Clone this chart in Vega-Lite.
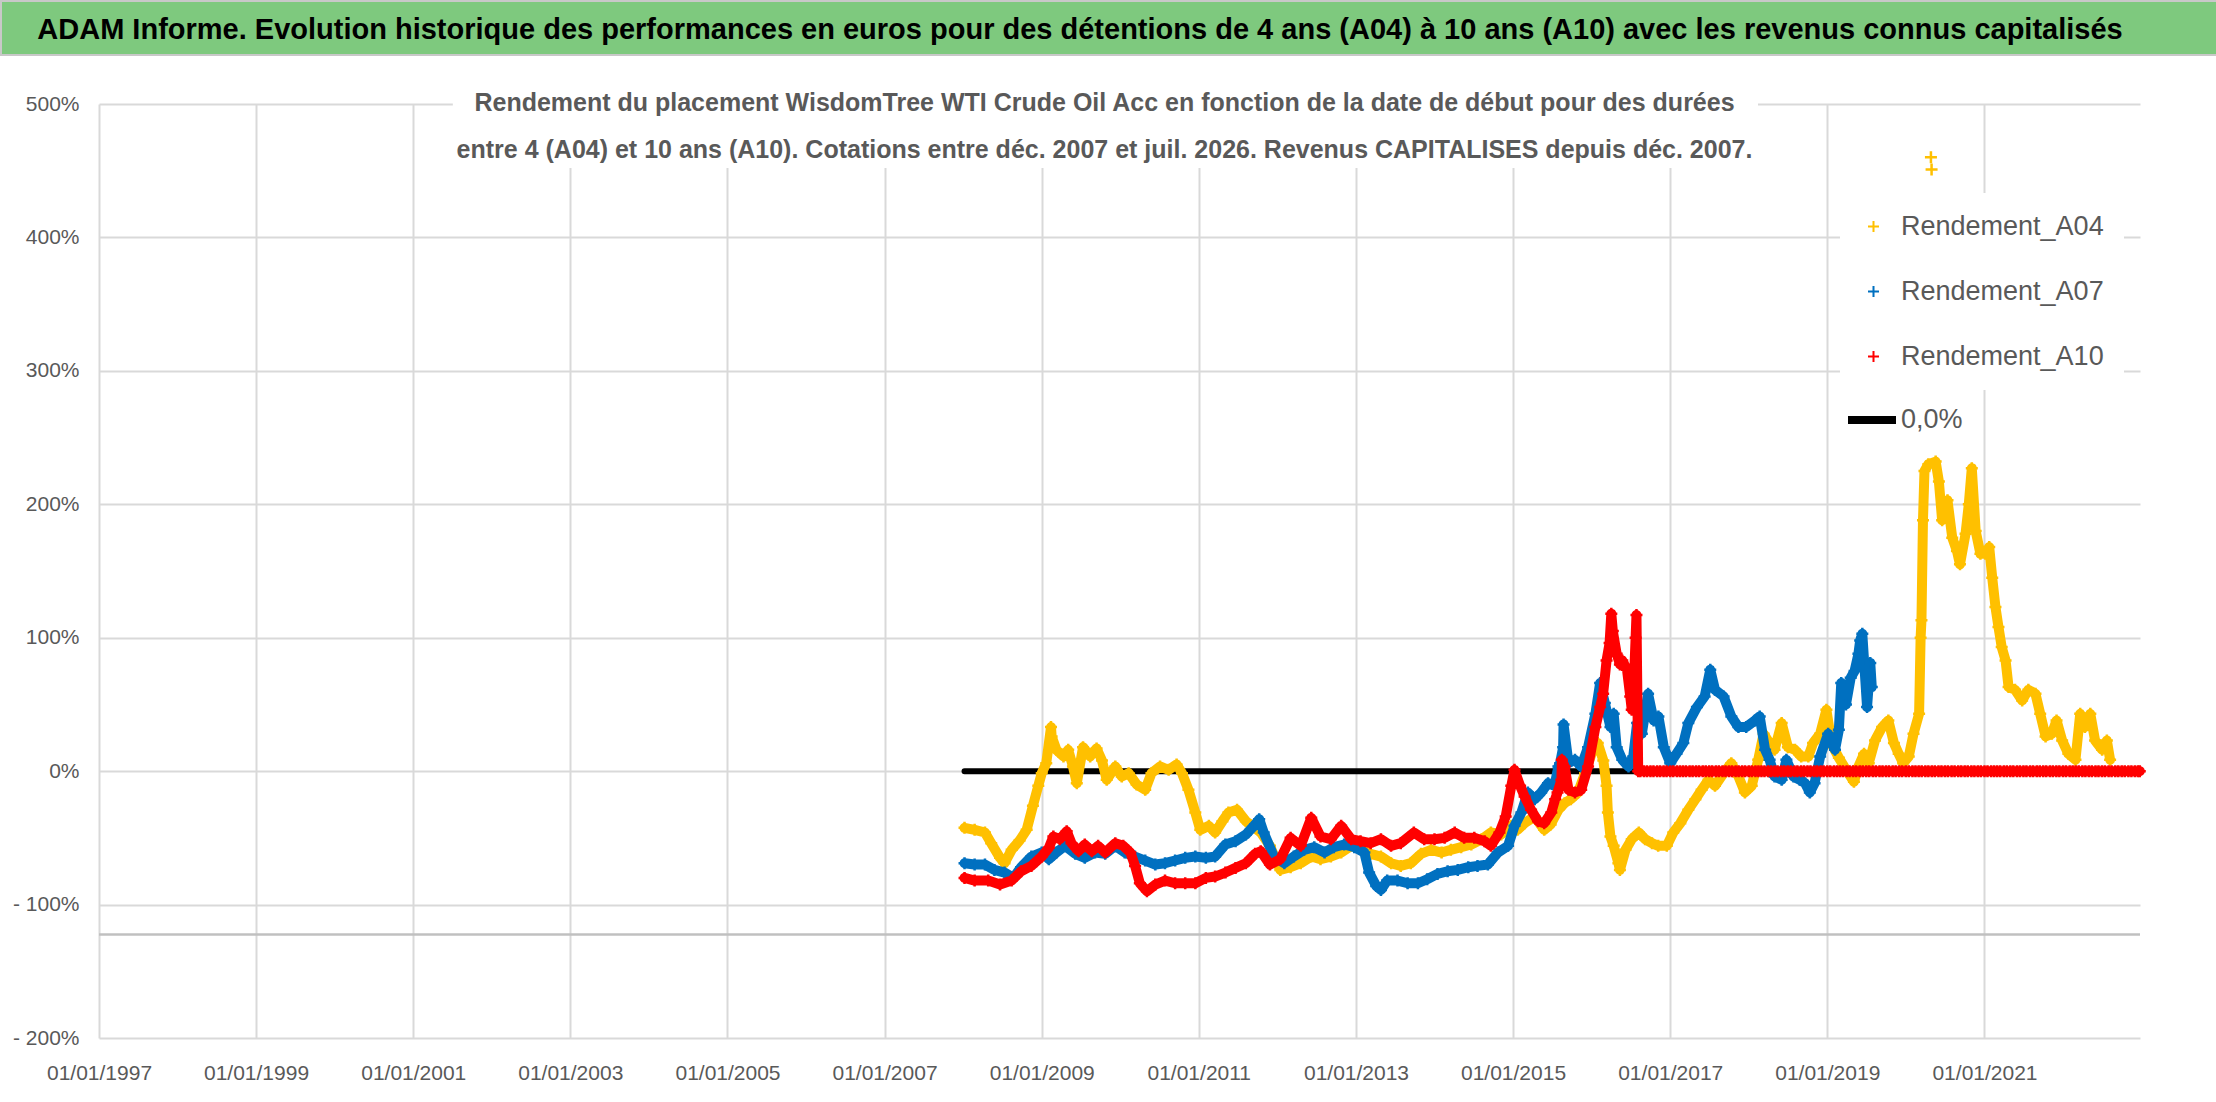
{
"$schema": "https://vega.github.io/schema/vega-lite/v6.json",
"padding": 0,
"background": "white",
"spacing": 35,
"config": {"view": {"stroke": null}, "font": "Liberation Sans"},
"vconcat": [
{
"width": 2216, "height": 54,
"view": {"fill": "#7ec97e", "stroke": "#c8c8c8", "strokeWidth": 2},
"data": {"values": [{"t": "ADAM Informe. Evolution historique des performances en euros pour des détentions de 4 ans (A04) à 10 ans (A10) avec les revenus connus capitalisés"}]},
"mark": {"type": "text", "font": "Liberation Sans", "fontSize": 29, "fontWeight": "bold", "color": "black", "align": "center", "baseline": "middle", "dx": -29, "dy": 2},
"encoding": {"text": {"field": "t"}}
},
{
"spacing": 0,
"bounds": "flush",
"hconcat": [
{
"width": 98, "height": 934,
"data": {"values": []},
"mark": "point"
},
{
"width": 2041, "height": 934,
"title": {"text": ["Rendement du placement WisdomTree WTI Crude Oil Acc en fonction de la date de début pour des durées", "entre 4 (A04) et 10 ans (A10). Cotations entre déc. 2007 et juil. 2026. Revenus CAPITALISES depuis déc. 2007."], "font": "Liberation Sans", "fontSize": 25, "fontWeight": "bold", "color": "#595959", "lineHeight": 47, "anchor": "middle", "frame": "group", "baseline": "top", "offset": -70, "dx": -15},
"data": {"values": [
{"d":"2008-01-08","s":"0,0%","v":0},{"d":"2016-08-05","s":"0,0%","v":0},
{"d":"2008-01-08","s":"Rendement_A04","v":-42.5},{"d":"2008-02-24","s":"Rendement_A04","v":-44},{"d":"2008-04-12","s":"Rendement_A04","v":-46},{"d":"2008-05-11","s":"Rendement_A04","v":-54},{"d":"2008-06-21","s":"Rendement_A04","v":-65},{"d":"2008-07-12","s":"Rendement_A04","v":-69},{"d":"2008-08-14","s":"Rendement_A04","v":-59},{"d":"2008-09-20","s":"Rendement_A04","v":-52},{"d":"2008-10-23","s":"Rendement_A04","v":-44},{"d":"2008-11-21","s":"Rendement_A04","v":-26},{"d":"2008-12-16","s":"Rendement_A04","v":-11},
{"d":"2009-01-01","s":"Rendement_A04","v":-1.5},{"d":"2009-01-22","s":"Rendement_A04","v":6},{"d":"2009-02-13","s":"Rendement_A04","v":33},{"d":"2009-02-16","s":"Rendement_A04","v":26},{"d":"2009-03-10","s":"Rendement_A04","v":16},{"d":"2009-04-12","s":"Rendement_A04","v":11},{"d":"2009-05-04","s":"Rendement_A04","v":16},{"d":"2009-05-26","s":"Rendement_A04","v":3.5},{"d":"2009-06-13","s":"Rendement_A04","v":-9},{"d":"2009-07-12","s":"Rendement_A04","v":18},{"d":"2009-08-14","s":"Rendement_A04","v":11},{"d":"2009-09-13","s":"Rendement_A04","v":17},{"d":"2009-10-08","s":"Rendement_A04","v":8},{"d":"2009-10-30","s":"Rendement_A04","v":-6.5},{"d":"2009-12-09","s":"Rendement_A04","v":3.5},
{"d":"2010-01-08","s":"Rendement_A04","v":-4},{"d":"2010-02-09","s":"Rendement_A04","v":-1.5},{"d":"2010-03-18","s":"Rendement_A04","v":-10},{"d":"2010-04-27","s":"Rendement_A04","v":-14},{"d":"2010-05-26","s":"Rendement_A04","v":-1.5},{"d":"2010-07-05","s":"Rendement_A04","v":3.5},{"d":"2010-08-14","s":"Rendement_A04","v":1},{"d":"2010-09-20","s":"Rendement_A04","v":5},{"d":"2010-10-15","s":"Rendement_A04","v":-1.5},{"d":"2010-11-14","s":"Rendement_A04","v":-14},{"d":"2010-12-16","s":"Rendement_A04","v":-31},
{"d":"2011-01-08","s":"Rendement_A04","v":-44},{"d":"2011-02-17","s":"Rendement_A04","v":-41},{"d":"2011-03-18","s":"Rendement_A04","v":-46},{"d":"2011-04-21","s":"Rendement_A04","v":-37.5},{"d":"2011-05-19","s":"Rendement_A04","v":-31},{"d":"2011-06-28","s":"Rendement_A04","v":-29},{"d":"2011-08-08","s":"Rendement_A04","v":-37.5},{"d":"2011-09-06","s":"Rendement_A04","v":-41},{"d":"2011-10-16","s":"Rendement_A04","v":-46},{"d":"2011-11-28","s":"Rendement_A04","v":-56},
{"d":"2012-01-15","s":"Rendement_A04","v":-74},{"d":"2012-03-03","s":"Rendement_A04","v":-72},{"d":"2012-04-19","s":"Rendement_A04","v":-69},{"d":"2012-06-07","s":"Rendement_A04","v":-64},{"d":"2012-07-20","s":"Rendement_A04","v":-66},{"d":"2012-09-06","s":"Rendement_A04","v":-64},{"d":"2012-10-24","s":"Rendement_A04","v":-61},{"d":"2012-12-10","s":"Rendement_A04","v":-56},
{"d":"2013-01-22","s":"Rendement_A04","v":-57},{"d":"2013-03-10","s":"Rendement_A04","v":-62},{"d":"2013-04-27","s":"Rendement_A04","v":-64},{"d":"2013-06-13","s":"Rendement_A04","v":-69},{"d":"2013-07-28","s":"Rendement_A04","v":-71},{"d":"2013-09-13","s":"Rendement_A04","v":-69},{"d":"2013-10-30","s":"Rendement_A04","v":-62},{"d":"2013-12-16","s":"Rendement_A04","v":-59},
{"d":"2014-02-03","s":"Rendement_A04","v":-61},{"d":"2014-03-18","s":"Rendement_A04","v":-59},{"d":"2014-05-05","s":"Rendement_A04","v":-57},{"d":"2014-06-21","s":"Rendement_A04","v":-55},{"d":"2014-08-08","s":"Rendement_A04","v":-51},{"d":"2014-09-20","s":"Rendement_A04","v":-46},{"d":"2014-11-07","s":"Rendement_A04","v":-47.5},{"d":"2014-12-24","s":"Rendement_A04","v":-41},
{"d":"2015-01-22","s":"Rendement_A04","v":-44},{"d":"2015-02-24","s":"Rendement_A04","v":-39},{"d":"2015-04-12","s":"Rendement_A04","v":-34},{"d":"2015-05-26","s":"Rendement_A04","v":-44},{"d":"2015-06-25","s":"Rendement_A04","v":-40},{"d":"2015-07-31","s":"Rendement_A04","v":-29},{"d":"2015-08-29","s":"Rendement_A04","v":-24},{"d":"2015-09-27","s":"Rendement_A04","v":-21},{"d":"2015-10-30","s":"Rendement_A04","v":-16},{"d":"2015-12-02","s":"Rendement_A04","v":-1.5},
{"d":"2016-01-01","s":"Rendement_A04","v":13},{"d":"2016-01-30","s":"Rendement_A04","v":21},{"d":"2016-02-25","s":"Rendement_A04","v":8},{"d":"2016-03-11","s":"Rendement_A04","v":-11},{"d":"2016-03-17","s":"Rendement_A04","v":-31},{"d":"2016-03-29","s":"Rendement_A04","v":-49},{"d":"2016-04-13","s":"Rendement_A04","v":-56},{"d":"2016-05-05","s":"Rendement_A04","v":-69},{"d":"2016-05-12","s":"Rendement_A04","v":-74},{"d":"2016-06-07","s":"Rendement_A04","v":-59},{"d":"2016-07-06","s":"Rendement_A04","v":-51},{"d":"2016-08-08","s":"Rendement_A04","v":-46},{"d":"2016-09-06","s":"Rendement_A04","v":-51},{"d":"2016-10-08","s":"Rendement_A04","v":-54},{"d":"2016-11-06","s":"Rendement_A04","v":-56},{"d":"2016-12-16","s":"Rendement_A04","v":-56},
{"d":"2017-01-15","s":"Rendement_A04","v":-46},{"d":"2017-02-17","s":"Rendement_A04","v":-39},{"d":"2017-03-26","s":"Rendement_A04","v":-29},{"d":"2017-04-28","s":"Rendement_A04","v":-21},{"d":"2017-05-27","s":"Rendement_A04","v":-14},{"d":"2017-06-28","s":"Rendement_A04","v":-6.5},{"d":"2017-07-28","s":"Rendement_A04","v":-11},{"d":"2017-09-06","s":"Rendement_A04","v":-1.5},{"d":"2017-10-12","s":"Rendement_A04","v":6},{"d":"2017-11-14","s":"Rendement_A04","v":-4},{"d":"2017-12-14","s":"Rendement_A04","v":-16},
{"d":"2018-01-15","s":"Rendement_A04","v":-11},{"d":"2018-02-14","s":"Rendement_A04","v":8.5},{"d":"2018-03-11","s":"Rendement_A04","v":28},{"d":"2018-04-08","s":"Rendement_A04","v":21},{"d":"2018-05-01","s":"Rendement_A04","v":16},{"d":"2018-06-03","s":"Rendement_A04","v":36},{"d":"2018-07-02","s":"Rendement_A04","v":18},{"d":"2018-08-04","s":"Rendement_A04","v":16},{"d":"2018-09-02","s":"Rendement_A04","v":11},{"d":"2018-10-05","s":"Rendement_A04","v":11},{"d":"2018-10-27","s":"Rendement_A04","v":21},{"d":"2018-11-29","s":"Rendement_A04","v":28},{"d":"2018-12-28","s":"Rendement_A04","v":46},
{"d":"2019-01-22","s":"Rendement_A04","v":20},{"d":"2019-02-24","s":"Rendement_A04","v":10},{"d":"2019-03-26","s":"Rendement_A04","v":2},{"d":"2019-05-05","s":"Rendement_A04","v":-8},{"d":"2019-05-26","s":"Rendement_A04","v":3.5},{"d":"2019-06-21","s":"Rendement_A04","v":13},{"d":"2019-07-13","s":"Rendement_A04","v":6},{"d":"2019-08-11","s":"Rendement_A04","v":23},{"d":"2019-09-13","s":"Rendement_A04","v":33},{"d":"2019-10-12","s":"Rendement_A04","v":38},{"d":"2019-11-07","s":"Rendement_A04","v":21},{"d":"2019-11-29","s":"Rendement_A04","v":13},{"d":"2019-12-20","s":"Rendement_A04","v":6},
{"d":"2020-01-15","s":"Rendement_A04","v":11},{"d":"2020-02-06","s":"Rendement_A04","v":28},{"d":"2020-03-03","s":"Rendement_A04","v":43},{"d":"2020-03-10","s":"Rendement_A04","v":100},{"d":"2020-03-14","s":"Rendement_A04","v":113},{"d":"2020-03-21","s":"Rendement_A04","v":188},{"d":"2020-03-28","s":"Rendement_A04","v":225},{"d":"2020-04-15","s":"Rendement_A04","v":230},{"d":"2020-04-27","s":"Rendement_A04","v":460},{"d":"2020-04-30","s":"Rendement_A04","v":451},{"d":"2020-05-19","s":"Rendement_A04","v":232},{"d":"2020-06-03","s":"Rendement_A04","v":217},{"d":"2020-06-18","s":"Rendement_A04","v":188},{"d":"2020-07-13","s":"Rendement_A04","v":203},{"d":"2020-08-04","s":"Rendement_A04","v":175},{"d":"2020-08-26","s":"Rendement_A04","v":165},{"d":"2020-09-09","s":"Rendement_A04","v":155},{"d":"2020-10-05","s":"Rendement_A04","v":178},{"d":"2020-10-20","s":"Rendement_A04","v":200},{"d":"2020-11-03","s":"Rendement_A04","v":227},{"d":"2020-11-21","s":"Rendement_A04","v":180},{"d":"2020-12-13","s":"Rendement_A04","v":163},
{"d":"2021-01-05","s":"Rendement_A04","v":163},{"d":"2021-01-23","s":"Rendement_A04","v":168},{"d":"2021-02-06","s":"Rendement_A04","v":145},{"d":"2021-02-21","s":"Rendement_A04","v":123},{"d":"2021-03-07","s":"Rendement_A04","v":108},{"d":"2021-03-22","s":"Rendement_A04","v":93},{"d":"2021-04-09","s":"Rendement_A04","v":83},{"d":"2021-04-23","s":"Rendement_A04","v":63},{"d":"2021-05-23","s":"Rendement_A04","v":61},{"d":"2021-06-25","s":"Rendement_A04","v":53},{"d":"2021-07-24","s":"Rendement_A04","v":61},{"d":"2021-08-26","s":"Rendement_A04","v":58},{"d":"2021-09-17","s":"Rendement_A04","v":43},{"d":"2021-10-12","s":"Rendement_A04","v":26},{"d":"2021-11-10","s":"Rendement_A04","v":28},{"d":"2021-12-02","s":"Rendement_A04","v":38},{"d":"2021-12-28","s":"Rendement_A04","v":23},
{"d":"2022-01-26","s":"Rendement_A04","v":13},{"d":"2022-02-28","s":"Rendement_A04","v":8.5},{"d":"2022-03-22","s":"Rendement_A04","v":43},{"d":"2022-04-13","s":"Rendement_A04","v":33},{"d":"2022-05-08","s":"Rendement_A04","v":43},{"d":"2022-05-30","s":"Rendement_A04","v":23},{"d":"2022-07-02","s":"Rendement_A04","v":16},{"d":"2022-07-24","s":"Rendement_A04","v":23},{"d":"2022-08-08","s":"Rendement_A04","v":8.5},
{"d":"2008-01-08","s":"Rendement_A07","v":-69},{"d":"2008-02-24","s":"Rendement_A07","v":-70},{"d":"2008-04-12","s":"Rendement_A07","v":-70},{"d":"2008-05-26","s":"Rendement_A07","v":-74},{"d":"2008-07-12","s":"Rendement_A07","v":-76},{"d":"2008-08-22","s":"Rendement_A07","v":-80},{"d":"2008-09-27","s":"Rendement_A07","v":-72},{"d":"2008-11-14","s":"Rendement_A07","v":-64},
{"d":"2009-01-01","s":"Rendement_A07","v":-61},{"d":"2009-02-03","s":"Rendement_A07","v":-66},{"d":"2009-03-10","s":"Rendement_A07","v":-61},{"d":"2009-04-19","s":"Rendement_A07","v":-56},{"d":"2009-06-06","s":"Rendement_A07","v":-62},{"d":"2009-07-20","s":"Rendement_A07","v":-65},{"d":"2009-09-06","s":"Rendement_A07","v":-61},{"d":"2009-10-23","s":"Rendement_A07","v":-62},{"d":"2009-12-09","s":"Rendement_A07","v":-56},
{"d":"2010-01-22","s":"Rendement_A07","v":-61},{"d":"2010-03-10","s":"Rendement_A07","v":-64},{"d":"2010-04-27","s":"Rendement_A07","v":-67},{"d":"2010-06-13","s":"Rendement_A07","v":-70},{"d":"2010-07-28","s":"Rendement_A07","v":-69},{"d":"2010-09-13","s":"Rendement_A07","v":-67},{"d":"2010-10-30","s":"Rendement_A07","v":-65},{"d":"2010-12-16","s":"Rendement_A07","v":-64},
{"d":"2011-02-03","s":"Rendement_A07","v":-65},{"d":"2011-03-18","s":"Rendement_A07","v":-64},{"d":"2011-05-05","s":"Rendement_A07","v":-55},{"d":"2011-06-21","s":"Rendement_A07","v":-52.5},{"d":"2011-08-08","s":"Rendement_A07","v":-47.5},{"d":"2011-09-20","s":"Rendement_A07","v":-40},{"d":"2011-10-09","s":"Rendement_A07","v":-36},{"d":"2011-10-30","s":"Rendement_A07","v":-46},{"d":"2011-12-16","s":"Rendement_A07","v":-64},
{"d":"2012-02-03","s":"Rendement_A07","v":-69},{"d":"2012-03-18","s":"Rendement_A07","v":-64},{"d":"2012-05-05","s":"Rendement_A07","v":-59},{"d":"2012-06-21","s":"Rendement_A07","v":-57},{"d":"2012-08-08","s":"Rendement_A07","v":-61},{"d":"2012-09-20","s":"Rendement_A07","v":-57},{"d":"2012-11-07","s":"Rendement_A07","v":-55},{"d":"2012-12-24","s":"Rendement_A07","v":-57},
{"d":"2013-02-09","s":"Rendement_A07","v":-61},{"d":"2013-03-03","s":"Rendement_A07","v":-76},{"d":"2013-04-05","s":"Rendement_A07","v":-86},{"d":"2013-04-27","s":"Rendement_A07","v":-89},{"d":"2013-05-26","s":"Rendement_A07","v":-82},{"d":"2013-07-13","s":"Rendement_A07","v":-82},{"d":"2013-08-29","s":"Rendement_A07","v":-84},{"d":"2013-10-16","s":"Rendement_A07","v":-84},{"d":"2013-11-28","s":"Rendement_A07","v":-81},
{"d":"2014-01-15","s":"Rendement_A07","v":-77},{"d":"2014-03-03","s":"Rendement_A07","v":-75},{"d":"2014-04-19","s":"Rendement_A07","v":-74},{"d":"2014-06-07","s":"Rendement_A07","v":-72},{"d":"2014-07-20","s":"Rendement_A07","v":-71},{"d":"2014-09-06","s":"Rendement_A07","v":-70},{"d":"2014-10-23","s":"Rendement_A07","v":-61},{"d":"2014-12-09","s":"Rendement_A07","v":-56},
{"d":"2015-01-08","s":"Rendement_A07","v":-41},{"d":"2015-02-09","s":"Rendement_A07","v":-31},{"d":"2015-03-11","s":"Rendement_A07","v":-16},{"d":"2015-04-12","s":"Rendement_A07","v":-21},{"d":"2015-05-12","s":"Rendement_A07","v":-16},{"d":"2015-06-13","s":"Rendement_A07","v":-9},{"d":"2015-07-13","s":"Rendement_A07","v":-11},{"d":"2015-07-31","s":"Rendement_A07","v":3.5},{"d":"2015-08-08","s":"Rendement_A07","v":6},{"d":"2015-08-22","s":"Rendement_A07","v":18},{"d":"2015-08-24","s":"Rendement_A07","v":35},{"d":"2015-09-16","s":"Rendement_A07","v":6},{"d":"2015-10-16","s":"Rendement_A07","v":8.5},{"d":"2015-11-14","s":"Rendement_A07","v":3.5},{"d":"2015-12-16","s":"Rendement_A07","v":18},
{"d":"2016-01-19","s":"Rendement_A07","v":43},{"d":"2016-02-10","s":"Rendement_A07","v":66},{"d":"2016-03-03","s":"Rendement_A07","v":51},{"d":"2016-03-29","s":"Rendement_A07","v":33},{"d":"2016-04-13","s":"Rendement_A07","v":43},{"d":"2016-04-27","s":"Rendement_A07","v":18},{"d":"2016-05-23","s":"Rendement_A07","v":8.5},{"d":"2016-06-21","s":"Rendement_A07","v":3.5},{"d":"2016-07-13","s":"Rendement_A07","v":11},{"d":"2016-07-31","s":"Rendement_A07","v":36},{"d":"2016-08-22","s":"Rendement_A07","v":28},{"d":"2016-09-20","s":"Rendement_A07","v":58},{"d":"2016-10-16","s":"Rendement_A07","v":38},{"d":"2016-11-07","s":"Rendement_A07","v":41},{"d":"2016-12-02","s":"Rendement_A07","v":18},
{"d":"2017-01-01","s":"Rendement_A07","v":6},{"d":"2017-01-30","s":"Rendement_A07","v":13},{"d":"2017-03-03","s":"Rendement_A07","v":21},{"d":"2017-03-26","s":"Rendement_A07","v":36},{"d":"2017-05-05","s":"Rendement_A07","v":48},{"d":"2017-06-10","s":"Rendement_A07","v":56},{"d":"2017-07-06","s":"Rendement_A07","v":76},{"d":"2017-07-28","s":"Rendement_A07","v":61},{"d":"2017-09-06","s":"Rendement_A07","v":56},{"d":"2017-10-12","s":"Rendement_A07","v":41},{"d":"2017-11-14","s":"Rendement_A07","v":33},{"d":"2017-12-20","s":"Rendement_A07","v":33},
{"d":"2018-01-30","s":"Rendement_A07","v":38},{"d":"2018-02-21","s":"Rendement_A07","v":41},{"d":"2018-03-18","s":"Rendement_A07","v":16},{"d":"2018-04-08","s":"Rendement_A07","v":8.5},{"d":"2018-05-01","s":"Rendement_A07","v":-4},{"d":"2018-06-03","s":"Rendement_A07","v":-6.5},{"d":"2018-06-25","s":"Rendement_A07","v":8.5},{"d":"2018-07-28","s":"Rendement_A07","v":-4},{"d":"2018-08-26","s":"Rendement_A07","v":-6.5},{"d":"2018-09-20","s":"Rendement_A07","v":-9},{"d":"2018-10-12","s":"Rendement_A07","v":-16},{"d":"2018-11-03","s":"Rendement_A07","v":-9},{"d":"2018-11-29","s":"Rendement_A07","v":11},
{"d":"2019-01-05","s":"Rendement_A07","v":28},{"d":"2019-02-06","s":"Rendement_A07","v":16},{"d":"2019-02-24","s":"Rendement_A07","v":31},{"d":"2019-03-07","s":"Rendement_A07","v":66},{"d":"2019-03-29","s":"Rendement_A07","v":50},{"d":"2019-04-20","s":"Rendement_A07","v":70},{"d":"2019-05-08","s":"Rendement_A07","v":75},{"d":"2019-05-26","s":"Rendement_A07","v":88},{"d":"2019-06-03","s":"Rendement_A07","v":98},{"d":"2019-06-13","s":"Rendement_A07","v":103},{"d":"2019-07-05","s":"Rendement_A07","v":48},{"d":"2019-07-20","s":"Rendement_A07","v":81},{"d":"2019-07-27","s":"Rendement_A07","v":63},
{"d":"2008-01-08","s":"Rendement_A10","v":-80},{"d":"2008-02-24","s":"Rendement_A10","v":-82},{"d":"2008-04-27","s":"Rendement_A10","v":-82},{"d":"2008-06-21","s":"Rendement_A10","v":-85},{"d":"2008-08-14","s":"Rendement_A10","v":-82},{"d":"2008-09-27","s":"Rendement_A10","v":-75},{"d":"2008-11-14","s":"Rendement_A10","v":-71},
{"d":"2009-01-01","s":"Rendement_A10","v":-64},{"d":"2009-02-03","s":"Rendement_A10","v":-57.5},{"d":"2009-02-24","s":"Rendement_A10","v":-49},{"d":"2009-03-26","s":"Rendement_A10","v":-51},{"d":"2009-04-27","s":"Rendement_A10","v":-45},{"d":"2009-05-19","s":"Rendement_A10","v":-54},{"d":"2009-06-21","s":"Rendement_A10","v":-60},{"d":"2009-07-20","s":"Rendement_A10","v":-55},{"d":"2009-08-22","s":"Rendement_A10","v":-60},{"d":"2009-09-20","s":"Rendement_A10","v":-56},{"d":"2009-10-23","s":"Rendement_A10","v":-61},{"d":"2009-12-09","s":"Rendement_A10","v":-54},
{"d":"2010-01-15","s":"Rendement_A10","v":-56},{"d":"2010-02-17","s":"Rendement_A10","v":-61},{"d":"2010-03-11","s":"Rendement_A10","v":-71},{"d":"2010-04-02","s":"Rendement_A10","v":-84},{"d":"2010-05-05","s":"Rendement_A10","v":-90},{"d":"2010-06-13","s":"Rendement_A10","v":-85},{"d":"2010-07-28","s":"Rendement_A10","v":-82},{"d":"2010-09-13","s":"Rendement_A10","v":-84},{"d":"2010-10-30","s":"Rendement_A10","v":-84},{"d":"2010-12-16","s":"Rendement_A10","v":-84},
{"d":"2011-02-03","s":"Rendement_A10","v":-80},{"d":"2011-03-18","s":"Rendement_A10","v":-79},{"d":"2011-05-05","s":"Rendement_A10","v":-76},{"d":"2011-06-21","s":"Rendement_A10","v":-72.5},{"d":"2011-08-08","s":"Rendement_A10","v":-69},{"d":"2011-09-20","s":"Rendement_A10","v":-62},{"d":"2011-10-16","s":"Rendement_A10","v":-60},{"d":"2011-11-28","s":"Rendement_A10","v":-70},
{"d":"2012-01-15","s":"Rendement_A10","v":-66},{"d":"2012-03-03","s":"Rendement_A10","v":-50},{"d":"2012-04-19","s":"Rendement_A10","v":-56},{"d":"2012-06-07","s":"Rendement_A10","v":-35},{"d":"2012-07-20","s":"Rendement_A10","v":-49},{"d":"2012-09-06","s":"Rendement_A10","v":-51},{"d":"2012-10-24","s":"Rendement_A10","v":-41},{"d":"2012-12-10","s":"Rendement_A10","v":-51},
{"d":"2013-01-22","s":"Rendement_A10","v":-52.5},{"d":"2013-03-10","s":"Rendement_A10","v":-54},{"d":"2013-04-27","s":"Rendement_A10","v":-51},{"d":"2013-06-13","s":"Rendement_A10","v":-56},{"d":"2013-07-28","s":"Rendement_A10","v":-54},{"d":"2013-09-27","s":"Rendement_A10","v":-46},{"d":"2013-11-14","s":"Rendement_A10","v":-51},
{"d":"2014-01-01","s":"Rendement_A10","v":-51},{"d":"2014-02-17","s":"Rendement_A10","v":-50},{"d":"2014-04-05","s":"Rendement_A10","v":-46},{"d":"2014-05-19","s":"Rendement_A10","v":-50},{"d":"2014-07-05","s":"Rendement_A10","v":-50},{"d":"2014-08-22","s":"Rendement_A10","v":-52.5},{"d":"2014-09-20","s":"Rendement_A10","v":-56},{"d":"2014-10-30","s":"Rendement_A10","v":-46},{"d":"2014-11-28","s":"Rendement_A10","v":-34},{"d":"2014-12-24","s":"Rendement_A10","v":-11},
{"d":"2015-01-08","s":"Rendement_A10","v":1},{"d":"2015-02-03","s":"Rendement_A10","v":-11},{"d":"2015-02-24","s":"Rendement_A10","v":-19},{"d":"2015-03-26","s":"Rendement_A10","v":-29},{"d":"2015-04-27","s":"Rendement_A10","v":-37.5},{"d":"2015-05-26","s":"Rendement_A10","v":-39},{"d":"2015-06-28","s":"Rendement_A10","v":-31},{"d":"2015-07-16","s":"Rendement_A10","v":-21},{"d":"2015-07-27","s":"Rendement_A10","v":-16},{"d":"2015-08-14","s":"Rendement_A10","v":-6.5},{"d":"2015-08-16","s":"Rendement_A10","v":8.5},{"d":"2015-08-29","s":"Rendement_A10","v":3.5},{"d":"2015-09-16","s":"Rendement_A10","v":-14},{"d":"2015-10-16","s":"Rendement_A10","v":-16},{"d":"2015-11-14","s":"Rendement_A10","v":-14},{"d":"2015-12-16","s":"Rendement_A10","v":3.5},
{"d":"2016-01-19","s":"Rendement_A10","v":33},{"d":"2016-02-10","s":"Rendement_A10","v":48},{"d":"2016-02-24","s":"Rendement_A10","v":58},{"d":"2016-03-11","s":"Rendement_A10","v":83},{"d":"2016-03-25","s":"Rendement_A10","v":96},{"d":"2016-04-02","s":"Rendement_A10","v":118},{"d":"2016-04-09","s":"Rendement_A10","v":105},{"d":"2016-04-27","s":"Rendement_A10","v":88},{"d":"2016-05-12","s":"Rendement_A10","v":80},{"d":"2016-05-23","s":"Rendement_A10","v":83},{"d":"2016-06-14","s":"Rendement_A10","v":76},{"d":"2016-06-29","s":"Rendement_A10","v":56},{"d":"2016-07-06","s":"Rendement_A10","v":46},{"d":"2016-07-17","s":"Rendement_A10","v":71},{"d":"2016-07-24","s":"Rendement_A10","v":100},{"d":"2016-07-28","s":"Rendement_A10","v":117},
{"d":"2016-08-05","s":"Rendement_A10","v":0},{"d":"2016-08-15","s":"Rendement_A10","v":0},{"d":"2016-09-01","s":"Rendement_A10","v":0},{"d":"2016-09-15","s":"Rendement_A10","v":0},{"d":"2016-10-01","s":"Rendement_A10","v":0},{"d":"2016-10-15","s":"Rendement_A10","v":0},{"d":"2016-11-01","s":"Rendement_A10","v":0},{"d":"2016-11-15","s":"Rendement_A10","v":0},{"d":"2016-12-01","s":"Rendement_A10","v":0},{"d":"2016-12-15","s":"Rendement_A10","v":0},
{"d":"2017-01-01","s":"Rendement_A10","v":0},{"d":"2017-01-15","s":"Rendement_A10","v":0},{"d":"2017-02-01","s":"Rendement_A10","v":0},{"d":"2017-02-15","s":"Rendement_A10","v":0},{"d":"2017-03-01","s":"Rendement_A10","v":0},{"d":"2017-03-15","s":"Rendement_A10","v":0},{"d":"2017-04-01","s":"Rendement_A10","v":0},{"d":"2017-04-15","s":"Rendement_A10","v":0},{"d":"2017-05-01","s":"Rendement_A10","v":0},{"d":"2017-05-15","s":"Rendement_A10","v":0},{"d":"2017-06-01","s":"Rendement_A10","v":0},{"d":"2017-06-15","s":"Rendement_A10","v":0},{"d":"2017-07-01","s":"Rendement_A10","v":0},{"d":"2017-07-15","s":"Rendement_A10","v":0},{"d":"2017-08-01","s":"Rendement_A10","v":0},{"d":"2017-08-15","s":"Rendement_A10","v":0},{"d":"2017-09-01","s":"Rendement_A10","v":0},{"d":"2017-09-15","s":"Rendement_A10","v":0},{"d":"2017-10-01","s":"Rendement_A10","v":0},{"d":"2017-10-15","s":"Rendement_A10","v":0},{"d":"2017-11-01","s":"Rendement_A10","v":0},{"d":"2017-11-15","s":"Rendement_A10","v":0},{"d":"2017-12-01","s":"Rendement_A10","v":0},{"d":"2017-12-15","s":"Rendement_A10","v":0},
{"d":"2018-01-01","s":"Rendement_A10","v":0},{"d":"2018-01-15","s":"Rendement_A10","v":0},{"d":"2018-02-01","s":"Rendement_A10","v":0},{"d":"2018-02-15","s":"Rendement_A10","v":0},{"d":"2018-03-01","s":"Rendement_A10","v":0},{"d":"2018-03-15","s":"Rendement_A10","v":0},{"d":"2018-04-01","s":"Rendement_A10","v":0},{"d":"2018-04-15","s":"Rendement_A10","v":0},{"d":"2018-05-01","s":"Rendement_A10","v":0},{"d":"2018-05-15","s":"Rendement_A10","v":0},{"d":"2018-06-01","s":"Rendement_A10","v":0},{"d":"2018-06-15","s":"Rendement_A10","v":0},{"d":"2018-07-01","s":"Rendement_A10","v":0},{"d":"2018-07-15","s":"Rendement_A10","v":0},{"d":"2018-08-01","s":"Rendement_A10","v":0},{"d":"2018-08-15","s":"Rendement_A10","v":0},{"d":"2018-09-01","s":"Rendement_A10","v":0},{"d":"2018-09-15","s":"Rendement_A10","v":0},{"d":"2018-10-01","s":"Rendement_A10","v":0},{"d":"2018-10-15","s":"Rendement_A10","v":0},{"d":"2018-11-01","s":"Rendement_A10","v":0},{"d":"2018-11-15","s":"Rendement_A10","v":0},{"d":"2018-12-01","s":"Rendement_A10","v":0},{"d":"2018-12-15","s":"Rendement_A10","v":0},
{"d":"2019-01-01","s":"Rendement_A10","v":0},{"d":"2019-01-15","s":"Rendement_A10","v":0},{"d":"2019-02-01","s":"Rendement_A10","v":0},{"d":"2019-02-15","s":"Rendement_A10","v":0},{"d":"2019-03-01","s":"Rendement_A10","v":0},{"d":"2019-03-15","s":"Rendement_A10","v":0},{"d":"2019-04-01","s":"Rendement_A10","v":0},{"d":"2019-04-15","s":"Rendement_A10","v":0},{"d":"2019-05-01","s":"Rendement_A10","v":0},{"d":"2019-05-15","s":"Rendement_A10","v":0},{"d":"2019-06-01","s":"Rendement_A10","v":0},{"d":"2019-06-15","s":"Rendement_A10","v":0},{"d":"2019-07-01","s":"Rendement_A10","v":0},{"d":"2019-07-15","s":"Rendement_A10","v":0},{"d":"2019-08-01","s":"Rendement_A10","v":0},{"d":"2019-08-15","s":"Rendement_A10","v":0},{"d":"2019-09-01","s":"Rendement_A10","v":0},{"d":"2019-09-15","s":"Rendement_A10","v":0},{"d":"2019-10-01","s":"Rendement_A10","v":0},{"d":"2019-10-15","s":"Rendement_A10","v":0},{"d":"2019-11-01","s":"Rendement_A10","v":0},{"d":"2019-11-15","s":"Rendement_A10","v":0},{"d":"2019-12-01","s":"Rendement_A10","v":0},{"d":"2019-12-15","s":"Rendement_A10","v":0},
{"d":"2020-01-01","s":"Rendement_A10","v":0},{"d":"2020-01-15","s":"Rendement_A10","v":0},{"d":"2020-02-01","s":"Rendement_A10","v":0},{"d":"2020-02-15","s":"Rendement_A10","v":0},{"d":"2020-03-01","s":"Rendement_A10","v":0},{"d":"2020-03-15","s":"Rendement_A10","v":0},{"d":"2020-04-01","s":"Rendement_A10","v":0},{"d":"2020-04-15","s":"Rendement_A10","v":0},{"d":"2020-05-01","s":"Rendement_A10","v":0},{"d":"2020-05-15","s":"Rendement_A10","v":0},{"d":"2020-06-01","s":"Rendement_A10","v":0},{"d":"2020-06-15","s":"Rendement_A10","v":0},{"d":"2020-07-01","s":"Rendement_A10","v":0},{"d":"2020-07-15","s":"Rendement_A10","v":0},{"d":"2020-08-01","s":"Rendement_A10","v":0},{"d":"2020-08-15","s":"Rendement_A10","v":0},{"d":"2020-09-01","s":"Rendement_A10","v":0},{"d":"2020-09-15","s":"Rendement_A10","v":0},{"d":"2020-10-01","s":"Rendement_A10","v":0},{"d":"2020-10-15","s":"Rendement_A10","v":0},{"d":"2020-11-01","s":"Rendement_A10","v":0},{"d":"2020-11-15","s":"Rendement_A10","v":0},{"d":"2020-12-01","s":"Rendement_A10","v":0},{"d":"2020-12-15","s":"Rendement_A10","v":0},
{"d":"2021-01-01","s":"Rendement_A10","v":0},{"d":"2021-01-15","s":"Rendement_A10","v":0},{"d":"2021-02-01","s":"Rendement_A10","v":0},{"d":"2021-02-15","s":"Rendement_A10","v":0},{"d":"2021-03-01","s":"Rendement_A10","v":0},{"d":"2021-03-15","s":"Rendement_A10","v":0},{"d":"2021-04-01","s":"Rendement_A10","v":0},{"d":"2021-04-15","s":"Rendement_A10","v":0},{"d":"2021-05-01","s":"Rendement_A10","v":0},{"d":"2021-05-15","s":"Rendement_A10","v":0},{"d":"2021-06-01","s":"Rendement_A10","v":0},{"d":"2021-06-15","s":"Rendement_A10","v":0},{"d":"2021-07-01","s":"Rendement_A10","v":0},{"d":"2021-07-15","s":"Rendement_A10","v":0},{"d":"2021-08-01","s":"Rendement_A10","v":0},{"d":"2021-08-15","s":"Rendement_A10","v":0},{"d":"2021-09-01","s":"Rendement_A10","v":0},{"d":"2021-09-15","s":"Rendement_A10","v":0},{"d":"2021-10-01","s":"Rendement_A10","v":0},{"d":"2021-10-15","s":"Rendement_A10","v":0},{"d":"2021-11-01","s":"Rendement_A10","v":0},{"d":"2021-11-15","s":"Rendement_A10","v":0},{"d":"2021-12-01","s":"Rendement_A10","v":0},{"d":"2021-12-15","s":"Rendement_A10","v":0},
{"d":"2022-01-01","s":"Rendement_A10","v":0},{"d":"2022-01-15","s":"Rendement_A10","v":0},{"d":"2022-02-01","s":"Rendement_A10","v":0},{"d":"2022-02-15","s":"Rendement_A10","v":0},{"d":"2022-03-01","s":"Rendement_A10","v":0},{"d":"2022-03-15","s":"Rendement_A10","v":0},{"d":"2022-04-01","s":"Rendement_A10","v":0},{"d":"2022-04-15","s":"Rendement_A10","v":0},{"d":"2022-05-01","s":"Rendement_A10","v":0},{"d":"2022-05-15","s":"Rendement_A10","v":0},{"d":"2022-06-01","s":"Rendement_A10","v":0},{"d":"2022-06-15","s":"Rendement_A10","v":0},{"d":"2022-07-01","s":"Rendement_A10","v":0},{"d":"2022-07-15","s":"Rendement_A10","v":0},{"d":"2022-08-01","s":"Rendement_A10","v":0},{"d":"2022-08-15","s":"Rendement_A10","v":0},{"d":"2022-09-01","s":"Rendement_A10","v":0},{"d":"2022-09-15","s":"Rendement_A10","v":0},{"d":"2022-10-01","s":"Rendement_A10","v":0},{"d":"2022-10-15","s":"Rendement_A10","v":0},{"d":"2022-11-01","s":"Rendement_A10","v":0},{"d":"2022-11-15","s":"Rendement_A10","v":0},{"d":"2022-12-01","s":"Rendement_A10","v":0},{"d":"2022-12-15","s":"Rendement_A10","v":0},{"d":"2022-12-24","s":"Rendement_A10","v":0}
]},
"layer": [
{
"data": {"values": [{}]},
"mark": {"type": "rect", "color": "white"},
"encoding": {
"x": {"datum": {"year": 2001, "month": 7, "date": 4, "utc": true}, "type": "temporal"},
"x2": {"datum": {"year": 2018, "month": 2, "date": 13, "utc": true}},
"y": {"datum": 452, "type": "quantitative"},
"y2": {"datum": 502}
}
},
{
"data": {"values": [{}]},
"mark": {"type": "rule", "color": "#c0c0c0", "strokeWidth": 2.5},
"encoding": {"y": {"datum": -122.5}}
},
{
"transform": [{"filter": "datum.s === '0,0%'"}],
"mark": {"type": "line", "color": "black", "strokeWidth": 6, "strokeCap": "round"},
"encoding": {
"x": {"field": "d", "type": "temporal"},
"y": {"field": "v", "type": "quantitative"},
"strokeDash": {"field": "s", "type": "nominal", "scale": {"domain": ["0,0%"], "range": [[1, 0]]},
"legend": {"orient": "none", "legendX": 1836, "legendY": 384, "title": null, "fillColor": "white", "padding": 7, "labelFont": "Liberation Sans", "labelFontSize": 27, "labelColor": "#595959", "labelOffset": 1, "symbolSize": 2304, "symbolStrokeWidth": 8, "symbolStrokeColor": "black", "symbolType": "stroke", "labelLimit": 400}}
}
},
{
"encoding": {
"x": {"field": "d", "type": "temporal",
"scale": {"type": "utc", "domain": [{"year": 1997, "month": 1, "date": 1, "utc": true}, {"year": 2022, "month": 12, "date": 25, "utc": true}]},
"axis": {"values": [{"year":1997,"month":1,"date":1,"utc":true},{"year":1999,"month":1,"date":1,"utc":true},{"year":2001,"month":1,"date":1,"utc":true},{"year":2003,"month":1,"date":1,"utc":true},{"year":2005,"month":1,"date":1,"utc":true},{"year":2007,"month":1,"date":1,"utc":true},{"year":2009,"month":1,"date":1,"utc":true},{"year":2011,"month":1,"date":1,"utc":true},{"year":2013,"month":1,"date":1,"utc":true},{"year":2015,"month":1,"date":1,"utc":true},{"year":2017,"month":1,"date":1,"utc":true},{"year":2019,"month":1,"date":1,"utc":true},{"year":2021,"month":1,"date":1,"utc":true}],
"format": "%d/%m/%Y", "labelFont": "Liberation Sans", "labelFontSize": 21, "labelColor": "#595959", "labelPadding": 24, "ticks": false, "domain": false, "grid": true, "gridColor": "#d9d9d9", "gridWidth": 2, "title": null, "labelFlush": false, "labelOverlap": false}},
"y": {"field": "v", "type": "quantitative",
"scale": {"domain": [-200, 500], "nice": false, "zero": false},
"axis": {"values": [-200,-100,0,100,200,300,400,500], "labelExpr": "datum.value < 0 ? '- ' + (-datum.value) + '%' : datum.value + '%'", "labelFont": "Liberation Sans", "labelFontSize": 21, "labelColor": "#595959", "labelPadding": 20, "ticks": false, "domain": false, "grid": true, "gridColor": "#d9d9d9", "gridWidth": 2, "title": null}}
},
"layer": [
{
"transform": [{"filter": "datum.s === 'Rendement_A04' && datum.v < 400"}],
"mark": {"type": "line", "color": "#FFC000", "strokeWidth": 10, "strokeJoin": "round", "strokeCap": "round"},
"encoding": {}
},
{
"transform": [{"filter": "datum.s === 'Rendement_A04'"}],
"mark": {"type": "point", "filled": false, "strokeWidth": 2.5, "size": 144, "opacity": 1},
"encoding": {
"color": {"field": "s", "type": "nominal",
"scale": {"domain": ["Rendement_A04","Rendement_A07","Rendement_A10"], "range": ["#FFC000","#0070C0","#FF0000"]},
"legend": {"orient": "none", "legendX": 1839, "legendY": 192, "title": null, "fillColor": "white", "padding": 20, "labelFont": "Liberation Sans", "labelFontSize": 27, "labelColor": "#595959", "labelOffset": 14, "symbolSize": 121, "symbolStrokeWidth": 2, "rowPadding": 37, "labelLimit": 400}},
"shape": {"field": "s", "type": "nominal",
"scale": {"domain": ["Rendement_A04","Rendement_A07","Rendement_A10"], "range": ["M-1,0H1M0,-1V1","M-1,0H1M0,-1V1","M-1,0H1M0,-1V1"]},
"legend": {"orient": "none", "legendX": 1839, "legendY": 192, "title": null, "fillColor": "white", "padding": 20, "labelFont": "Liberation Sans", "labelFontSize": 27, "labelColor": "#595959", "labelOffset": 14, "symbolSize": 121, "symbolStrokeWidth": 2, "rowPadding": 37, "labelLimit": 400}}
}
},
{
"transform": [{"filter": "datum.s === 'Rendement_A07'"}],
"mark": {"type": "line", "color": "#0070C0", "strokeWidth": 10, "strokeJoin": "round", "strokeCap": "round"},
"encoding": {}
},
{
"transform": [{"filter": "datum.s === 'Rendement_A07'"}],
"mark": {"type": "point", "filled": false, "strokeWidth": 2.5, "size": 144, "opacity": 1},
"encoding": {
"color": {"field": "s", "type": "nominal",
"scale": {"domain": ["Rendement_A04","Rendement_A07","Rendement_A10"], "range": ["#FFC000","#0070C0","#FF0000"]},
"legend": {"orient": "none", "legendX": 1839, "legendY": 192, "title": null, "fillColor": "white", "padding": 20, "labelFont": "Liberation Sans", "labelFontSize": 27, "labelColor": "#595959", "labelOffset": 14, "symbolSize": 121, "symbolStrokeWidth": 2, "rowPadding": 37, "labelLimit": 400}},
"shape": {"field": "s", "type": "nominal",
"scale": {"domain": ["Rendement_A04","Rendement_A07","Rendement_A10"], "range": ["M-1,0H1M0,-1V1","M-1,0H1M0,-1V1","M-1,0H1M0,-1V1"]},
"legend": {"orient": "none", "legendX": 1839, "legendY": 192, "title": null, "fillColor": "white", "padding": 20, "labelFont": "Liberation Sans", "labelFontSize": 27, "labelColor": "#595959", "labelOffset": 14, "symbolSize": 121, "symbolStrokeWidth": 2, "rowPadding": 37, "labelLimit": 400}}
}
},
{
"transform": [{"filter": "datum.s === 'Rendement_A10'"}],
"mark": {"type": "line", "color": "#FF0000", "strokeWidth": 10, "strokeJoin": "round", "strokeCap": "round"},
"encoding": {}
},
{
"transform": [{"filter": "datum.s === 'Rendement_A10'"}],
"mark": {"type": "point", "filled": false, "strokeWidth": 2.5, "size": 144, "opacity": 1},
"encoding": {
"color": {"field": "s", "type": "nominal",
"scale": {"domain": ["Rendement_A04","Rendement_A07","Rendement_A10"], "range": ["#FFC000","#0070C0","#FF0000"]},
"legend": {"orient": "none", "legendX": 1839, "legendY": 192, "title": null, "fillColor": "white", "padding": 20, "labelFont": "Liberation Sans", "labelFontSize": 27, "labelColor": "#595959", "labelOffset": 14, "symbolSize": 121, "symbolStrokeWidth": 2, "rowPadding": 37, "labelLimit": 400}},
"shape": {"field": "s", "type": "nominal",
"scale": {"domain": ["Rendement_A04","Rendement_A07","Rendement_A10"], "range": ["M-1,0H1M0,-1V1","M-1,0H1M0,-1V1","M-1,0H1M0,-1V1"]},
"legend": {"orient": "none", "legendX": 1839, "legendY": 192, "title": null, "fillColor": "white", "padding": 20, "labelFont": "Liberation Sans", "labelFontSize": 27, "labelColor": "#595959", "labelOffset": 14, "symbolSize": 121, "symbolStrokeWidth": 2, "rowPadding": 37, "labelLimit": 400}}
}
}
]
}
]
}
]
}
]
}
